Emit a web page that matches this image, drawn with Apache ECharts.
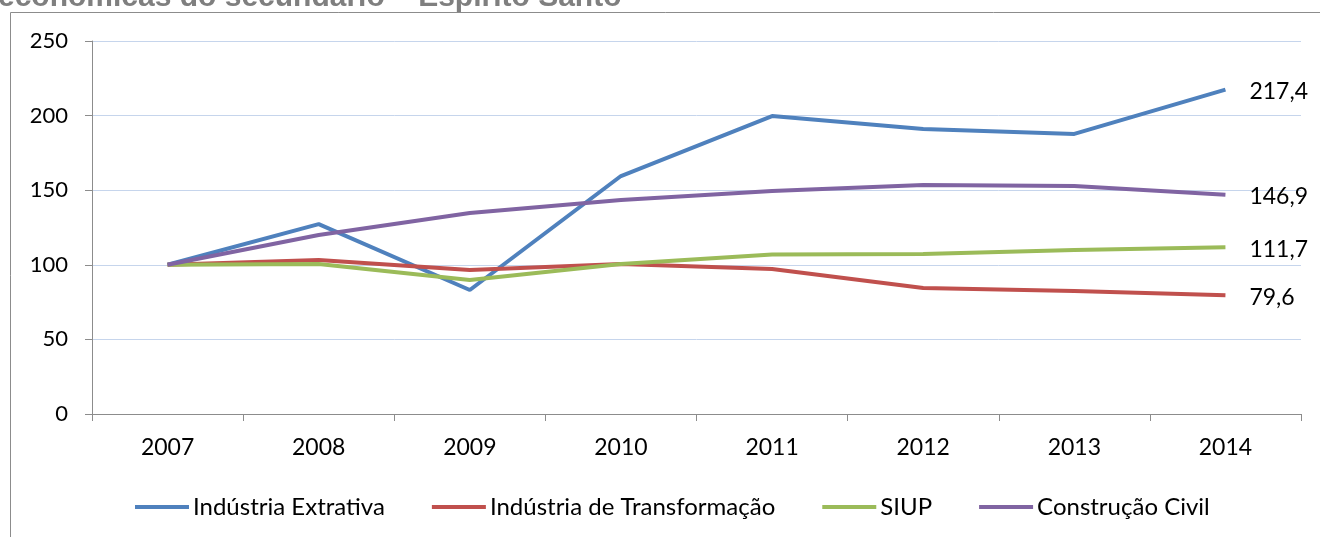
<!DOCTYPE html>
<html>
<head>
<meta charset="utf-8">
<script src="https://cdn.jsdelivr.net/npm/echarts@6/dist/echarts.min.js"></script>
<style>
  html, body { margin: 0; padding: 0; background: #fff; }
  #chart { width: 1320px; height: 537px; }
</style>
</head>
<body>
<div id="chart"></div>
<script>
// dados (índice 2007 = 100)
var anos = ['2007', '2008', '2009', '2010', '2011', '2012', '2013', '2014'];
var extrativa = [100, 127.3, 83.1, 159.5, 199.7, 191.0, 187.7, 217.4];
var transformacao = [100, 103.2, 96.5, 100.5, 97.2, 84.4, 82.4, 79.6];
var siup = [100, 100.5, 89.8, 100.5, 106.9, 107.2, 109.9, 111.7];
var construcao = [100, 120.0, 134.7, 143.4, 149.5, 153.5, 152.8, 146.9];
var nomes = ['Indústria Extrativa', 'Indústria de Transformação', 'SIUP', 'Construção Civil'];
var cores = ['#4f81bd', '#c0504d', '#9bbb59', '#8064a2'];

var fonte = 'Lato, Calibri, sans-serif';

function serie (nome, dados, cor) {
  return {
    name: nome,
    type: 'line',
    data: dados,
    symbol: 'none',
    lineStyle: { color: cor, width: 4 },
    itemStyle: { color: cor },
    endLabel: {
      show: true,
      distance: 24,
      offset: [0, 2],
      color: '#000',
      fontFamily: fonte,
      fontSize: 23,
      formatter: function (p) {
        return String(p.value).replace('.', ',') // vírgula decimal
      }
    }
  }
}

var chart = echarts.init(document.getElementById('chart'));
chart.setOption({
  animation: false,
  color: cores,
  graphic: [
    {
      type: 'text',
      left: -2,
      top: -17,
      style: {
        text: 'econômicas do secundário – Espírito Santo',
        fill: '#7f7f7f',
        font: 'bold 30px "Liberation Sans", Arial, sans-serif'
      }
    },
    {
      type: 'rect',
      shape: { x: 10.5, y: 12.5, width: 1400, height: 600 },
      style: { fill: 'none', stroke: '#8c8c8c', lineWidth: 1 }
    }
  ],
  grid: { left: 92, right: 19, top: 41, bottom: 123 },
  legend: {
    left: 130,
    top: 490,
    icon: 'rect',
    itemWidth: 54,
    itemHeight: 4,
    itemGap: 47,
    textStyle: { color: '#000', fontFamily: fonte, fontSize: 24, padding: [0, 0, 0, -1] },
    data: nomes
  },
  xAxis: {
    type: 'category',
    data: anos,
    boundaryGap: true,
    axisLine: { lineStyle: { color: '#8c8c8c' } },
    axisTick: { show: true, length: 7, lineStyle: { color: '#8c8c8c' } },
    axisLabel: { color: '#000', fontFamily: fonte, fontSize: 23, margin: 22 }
  },
  yAxis: {
    type: 'value',
    min: 0,
    max: 250,
    interval: 50,
    axisLine: { show: true, lineStyle: { color: '#8c8c8c' } },
    axisTick: { show: true, length: 7, lineStyle: { color: '#8c8c8c' } },
    axisLabel: { color: '#000', fontFamily: fonte, fontSize: 22, margin: 24 },
    splitLine: { lineStyle: { color: '#c6d5ec', width: 1 } }
  },
  series: [
    serie(nomes[0], extrativa, cores[0]),
    serie(nomes[1], transformacao, cores[1]),
    serie(nomes[2], siup, cores[2]),
    serie(nomes[3], construcao, cores[3])
  ]
});
</script>
</body>
</html>
